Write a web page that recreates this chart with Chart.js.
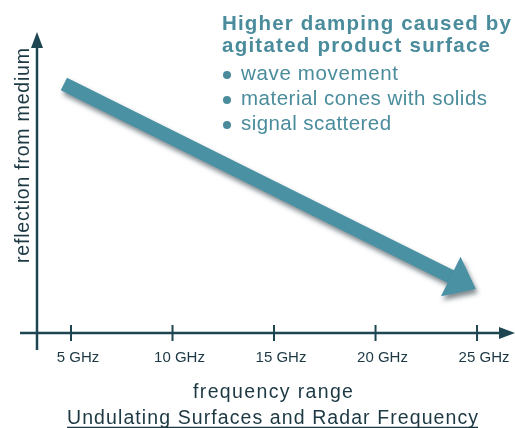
<!DOCTYPE html>
<html>
<head>
<meta charset="utf-8">
<script src="https://cdn.jsdelivr.net/npm/chart.js@4/dist/chart.umd.min.js"></script>
<style>
  html, body { margin: 0; padding: 0; background: #ffffff; }
  canvas { display: block; }
</style>
</head>
<body>
<canvas id="radarChart" width="515" height="428"></canvas>
<script>
// data
const frequencyGHz = [4.65, 23.75];     // arrow start / arrow head base
const reflection = [82.7, 18.6];        // relative reflection (0..100)
const tickValues = [5, 10, 15, 20, 25];
const tickLabels = ["5 GHz", "10 GHz", "15 GHz", "20 GHz", "25 GHz"];
const headingLines = ["Higher damping caused by", "agitated product surface"];
const bulletItems = ["wave movement", "material cones with solids", "signal scattered"];

const axisColor = "#1d4652";
const textColor = "#1b3843";
const noteColor = "#4a8c9c";
const arrowColor = "#4a91a4";
const FONT = "'Liberation Sans', Arial, sans-serif";

// draw text stretched to a given width with letter spacing
function fitText(ctx, text, x, y, width) {
  ctx.letterSpacing = "0px";
  const w = ctx.measureText(text).width;
  const sp = (width - w) / Math.max(1, text.length - 1);
  ctx.letterSpacing = sp.toFixed(2) + "px";
  ctx.fillText(text, x, y);
  ctx.letterSpacing = "0px";
}

const sketch = {
  id: "sketch",
  beforeDatasetsDraw(chart) {
    const ctx = chart.ctx;
    const xs = chart.scales.x, ys = chart.scales.y;
    const ax = xs.getPixelForValue(xs.min);
    const ay = ys.getPixelForValue(0);
    const top = ys.getPixelForValue(ys.max);
    const right = xs.getPixelForValue(xs.max);

    ctx.save();
    ctx.strokeStyle = axisColor;
    ctx.fillStyle = axisColor;
    ctx.lineWidth = 2.5;
    // y axis
    ctx.beginPath();
    ctx.moveTo(ax, ay + 17);
    ctx.lineTo(ax, top + 12);
    ctx.stroke();
    ctx.beginPath();
    ctx.moveTo(ax, top);
    ctx.lineTo(ax - 6, top + 16);
    ctx.lineTo(ax + 6, top + 16);
    ctx.closePath();
    ctx.fill();
    // x axis
    ctx.beginPath();
    ctx.moveTo(ax - 17, ay);
    ctx.lineTo(right - 12, ay);
    ctx.stroke();
    ctx.beginPath();
    ctx.moveTo(right, ay);
    ctx.lineTo(right - 16, ay - 6);
    ctx.lineTo(right - 16, ay + 6);
    ctx.closePath();
    ctx.fill();
    // tick marks + labels
    ctx.lineWidth = 2;
    ctx.font = "15px " + FONT;
    ctx.textAlign = "center";
    ctx.textBaseline = "alphabetic";
    tickValues.forEach((v, i) => {
      const px = xs.getPixelForValue(v);
      ctx.beginPath();
      ctx.moveTo(px, ay - 8);
      ctx.lineTo(px, ay + 8);
      ctx.stroke();
      ctx.fillStyle = textColor;
      ctx.fillText(tickLabels[i], px + 7, ay + 29);
    });
    ctx.restore();

    // shadow for the arrow
    ctx.save();
    ctx.shadowColor = "rgba(20, 40, 50, 0.55)";
    ctx.shadowBlur = 5;
    ctx.shadowOffsetX = 2;
    ctx.shadowOffsetY = 4;
  },
  afterDatasetsDraw(chart) {
    const ctx = chart.ctx;
    const pts = chart.getDatasetMeta(0).data;
    const p0 = pts[pts.length - 2], p1 = pts[pts.length - 1];
    const a = Math.atan2(p1.y - p0.y, p1.x - p0.x);
    const c = Math.cos(a), s = Math.sin(a);
    const len = 27, half = 22;
    ctx.fillStyle = arrowColor;
    ctx.beginPath();
    ctx.moveTo(p1.x - 1 * c + half * s, p1.y - 1 * s - half * c);
    ctx.lineTo(p1.x + len * c, p1.y + len * s);
    ctx.lineTo(p1.x - 1 * c - half * s, p1.y - 1 * s + half * c);
    ctx.closePath();
    ctx.fill();
    ctx.restore();
  },
  afterDraw(chart) {
    const ctx = chart.ctx;
    ctx.save();
    ctx.textBaseline = "alphabetic";
    ctx.textAlign = "left";

    // annotation block
    ctx.fillStyle = noteColor;
    ctx.font = "bold 20.5px " + FONT;
    fitText(ctx, headingLines[0], 222, 30, 289);
    fitText(ctx, headingLines[1], 222, 52, 268);
    ctx.font = "20.5px " + FONT;
    const bw = [157, 246, 150];
    bulletItems.forEach((t, i) => {
      const by = 80 + i * 25;
      ctx.beginPath();
      ctx.arc(227, by - 5, 4, 0, Math.PI * 2);
      ctx.fill();
      fitText(ctx, t, 241, by, bw[i]);
    });

    // axis titles
    ctx.fillStyle = textColor;
    ctx.font = "19.5px " + FONT;
    ctx.save();
    ctx.translate(29, 263);
    ctx.rotate(-Math.PI / 2);
    fitText(ctx, "reflection from medium", 0, 0, 215);
    ctx.restore();

    fitText(ctx, "frequency range", 193, 398, 160);

    ctx.font = "19.5px " + FONT;
    fitText(ctx, "Undulating Surfaces and Radar Frequency", 67, 424, 411);
    ctx.strokeStyle = textColor;
    ctx.lineWidth = 1.3;
    ctx.beginPath();
    ctx.moveTo(67, 427.5);
    ctx.lineTo(478, 427.5);
    ctx.stroke();
    ctx.restore();
  }
};

const ctx = document.getElementById("radarChart").getContext("2d");

new Chart(ctx, {
  type: "line",
  data: {
    datasets: [
      {
        label: "reflection",
        data: frequencyGHz.map((f, i) => ({ x: f, y: reflection[i] })),
        borderColor: arrowColor,
        borderWidth: 14,
        borderCapStyle: "butt",
        pointRadius: 0,
        tension: 0,
        fill: false,
      },
    ],
  },
  options: {
    responsive: false,
    animation: false,
    layout: {
      padding: { left: 37, top: 32, right: 0, bottom: 95 },
    },
    plugins: {
      legend: { display: false },
      tooltip: { enabled: false },
    },
    scales: {
      x: { type: "linear", min: 3.325, max: 26.87, display: false },
      y: { min: 0, max: 100, display: false },
    },
  },
  plugins: [sketch],
});
</script>
</body>
</html>
